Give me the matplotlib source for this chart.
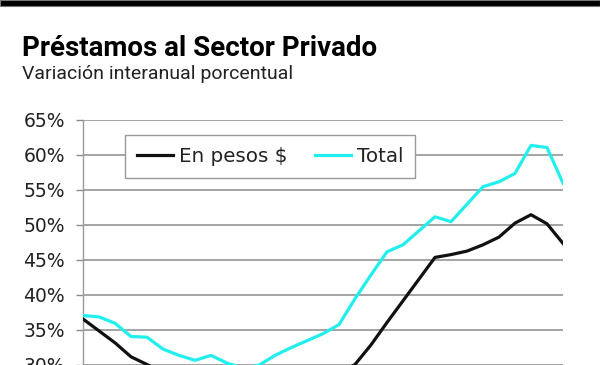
import matplotlib
matplotlib.use('Agg')
import matplotlib.pyplot as plt
from matplotlib import font_manager

# monthly series, year-on-year change (%)
months = list(range(31))
en_pesos = [36.5, 34.8, 33.1, 31.1, 30.0, 28.8, 27.8, 27.0, 26.4, 26.0, 25.7, 25.6,
            25.8, 26.3, 27.0, 27.8, 28.7, 30.0, 32.8, 36.0, 39.1, 42.2, 45.3, 45.7,
            46.2, 47.1, 48.2, 50.2, 51.4, 50.1, 47.3]
total = [37.0, 36.8, 35.9, 34.0, 33.9, 32.2, 31.3, 30.6, 31.3, 30.2, 29.5, 29.9,
         31.3, 32.4, 33.4, 34.4, 35.7, 39.4, 42.8, 46.1, 47.1, 49.1, 51.1, 50.4,
         52.9, 55.4, 56.1, 57.3, 61.3, 61.0, 55.9]
yticks = [30, 35, 40, 45, 50, 55, 60, 65]
ytick_labels = ['30%', '35%', '40%', '45%', '50%', '55%', '60%', '65%']

installed = {f.name for f in font_manager.fontManager.ttflist}
title_font = 'Liberation Sans Narrow' if 'Liberation Sans Narrow' in installed else 'Roboto'
title_size = 22 if title_font == 'Liberation Sans Narrow' else 20

W, H = 600, 365
fig = plt.figure(figsize=(6, 3.65), dpi=100)

# thick black band at the top
fig.patches.append(plt.Rectangle((0, 1 - 6 / H), 1, 6 / H, transform=fig.transFigure,
                                 facecolor='black', edgecolor='#777777', linewidth=0.8))

fig.text(22 / W, 1 - 56 / H, 'Préstamos al Sector Privado', fontsize=title_size,
         fontweight='bold', family=title_font, color='black')
fig.text(22 / W, 1 - 79 / H, 'Variación interanual porcentual', fontsize=14,
         family='Roboto', color='#222222')

# axes run past the bottom edge; the picture is cut at 30%
top = 119.5
bottom = top + (65 - 27) * 7
ax = fig.add_axes([83 / W, 1 - bottom / H, 480 / W, (bottom - top) / H])

ax.plot(months, en_pesos, color='#111111', lw=2.3, label='En pesos $', zorder=3)
ax.plot(months, total, color='#22eeee', lw=2.3, label='Total', zorder=3)

ax.set_xlim(0, 30)
ax.set_ylim(27, 65)
ax.set_yticks(yticks)
ax.set_yticklabels(ytick_labels, fontsize=13.5, color='#222222')
ax.set_xticks([])
ax.grid(axis='y', color='#8c8c8c', lw=1.1)
ax.tick_params(axis='y', length=5, width=1, color='#8c8c8c', pad=8)
for side in ['top', 'right', 'bottom']:
    ax.spines[side].set_visible(False)
ax.spines['left'].set_color('#9a9a9a')
ax.spines['left'].set_linewidth(1)

leg = ax.legend(loc='upper left', bbox_to_anchor=(125 / W, 1 - 135 / H),
                bbox_transform=fig.transFigure, ncol=2, fontsize=14.3,
                handlelength=1.8, handletextpad=0.3, columnspacing=1.4,
                borderpad=0.6, borderaxespad=0, fancybox=False, framealpha=1)
leg.get_frame().set_edgecolor('#999999')
leg.get_frame().set_linewidth(1)
for t in leg.get_texts():
    t.set_color('#222222')

fig.savefig('out.png', dpi=100)
